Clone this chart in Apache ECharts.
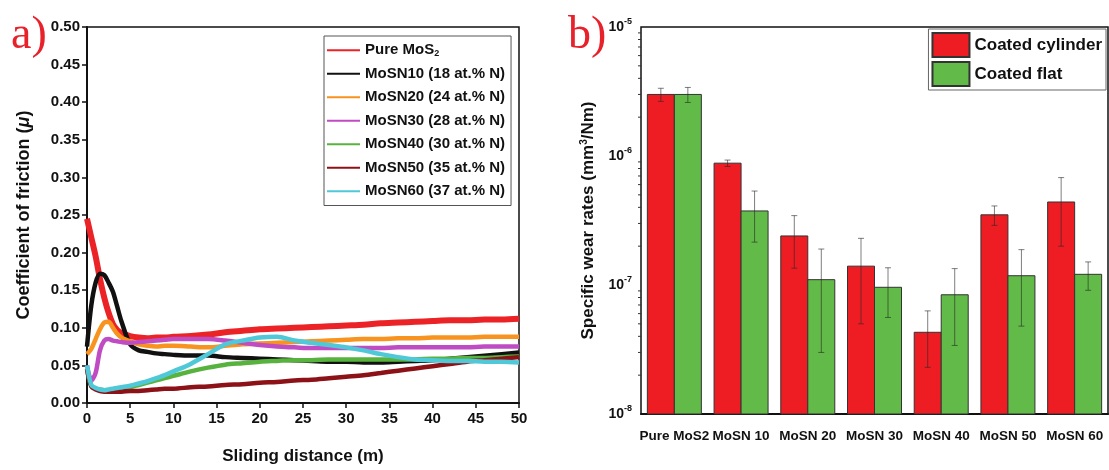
<!DOCTYPE html>
<html>
<head>
<meta charset="utf-8">
<script src="https://cdn.jsdelivr.net/npm/echarts@6/dist/echarts.min.js"></script>
<style>
  html, body { margin: 0; padding: 0; background: #fff; }
  #chart { width: 1109px; height: 470px; }
</style>
</head>
<body>
<div id="chart"></div>
<script>
// ---- a) friction coefficient vs sliding distance ----
const distance = [0, 0.5, 1, 1.5, 2, 2.5, 3, 3.5, 4, 5, 6, 7, 8, 9, 10, 12, 14, 16, 18, 20,
  22, 24, 26, 28, 30, 32, 34, 36, 38, 40, 42, 44, 46, 48, 50];

const cofPureMoS2 = [0.245, 0.22, 0.195, 0.165, 0.14, 0.12, 0.105, 0.097, 0.093, 0.089, 0.087, 0.086, 0.087, 0.087, 0.088,
  0.089, 0.091, 0.094, 0.096, 0.098, 0.099, 0.100, 0.101, 0.102, 0.103, 0.104, 0.106, 0.107, 0.108, 0.109,
  0.110, 0.110, 0.111, 0.111, 0.112];
const cofMoSN10 = [0.075, 0.13, 0.16, 0.172, 0.17, 0.16, 0.148, 0.128, 0.108, 0.078, 0.070, 0.068, 0.066, 0.065, 0.064,
  0.063, 0.063, 0.061, 0.060, 0.059, 0.058, 0.057, 0.056, 0.055, 0.055, 0.054, 0.054, 0.055, 0.056, 0.057,
  0.059, 0.061, 0.063, 0.065, 0.067];
const cofMoSN20 = [0.065, 0.072, 0.085, 0.098, 0.107, 0.108, 0.100, 0.092, 0.087, 0.082, 0.078, 0.076, 0.075, 0.076, 0.076,
  0.075, 0.074, 0.076, 0.078, 0.079, 0.080, 0.081, 0.082, 0.083, 0.084, 0.085, 0.085, 0.086, 0.086, 0.087,
  0.087, 0.087, 0.088, 0.088, 0.088];
const cofMoSN30 = [0.05, 0.03, 0.04, 0.07, 0.083, 0.085, 0.083, 0.082, 0.081, 0.080, 0.081, 0.082, 0.083, 0.084, 0.085,
  0.085, 0.085, 0.083, 0.080, 0.077, 0.075, 0.074, 0.073, 0.073, 0.073, 0.073, 0.073, 0.074, 0.074, 0.074,
  0.074, 0.074, 0.075, 0.075, 0.075];
const cofMoSN40 = [0.045, 0.022, 0.019, 0.018, 0.017, 0.017, 0.017, 0.018, 0.019, 0.021, 0.024, 0.027, 0.030, 0.033, 0.036,
  0.042, 0.047, 0.051, 0.053, 0.055, 0.056, 0.057, 0.057, 0.058, 0.058, 0.058, 0.058, 0.058, 0.058, 0.059,
  0.059, 0.060, 0.060, 0.061, 0.062];
const cofMoSN50 = [0.045, 0.022, 0.018, 0.016, 0.015, 0.015, 0.015, 0.015, 0.015, 0.016, 0.016, 0.017, 0.018, 0.019, 0.019,
  0.021, 0.022, 0.024, 0.025, 0.027, 0.028, 0.030, 0.031, 0.033, 0.035, 0.037, 0.040, 0.043, 0.046, 0.049,
  0.052, 0.055, 0.057, 0.059, 0.061];
const cofMoSN60 = [0.05, 0.024, 0.020, 0.018, 0.017, 0.018, 0.019, 0.020, 0.021, 0.023, 0.026, 0.029, 0.033, 0.037, 0.042,
  0.052, 0.065, 0.078, 0.083, 0.087, 0.088, 0.083, 0.080, 0.077, 0.074, 0.070, 0.065, 0.061, 0.058, 0.057,
  0.056, 0.056, 0.055, 0.055, 0.054];

const frictionNames = ['Pure MoS2', 'MoSN10 (18 at.% N)', 'MoSN20 (24 at.% N)', 'MoSN30 (28 at.% N)',
  'MoSN40 (30 at.% N)', 'MoSN50 (35 at.% N)', 'MoSN60 (37 at.% N)'];
const frictionValues = [cofPureMoS2, cofMoSN10, cofMoSN20, cofMoSN30, cofMoSN40, cofMoSN50, cofMoSN60];
const frictionColors = ['#ec2326', '#111111', '#f7931e', '#c04cc4', '#58b33e', '#8c1217', '#4fc8d8'];

// ---- b) specific wear rates (mm^3/Nm) ----
const samples = ['Pure MoS2', 'MoSN 10', 'MoSN 20', 'MoSN 30', 'MoSN 40', 'MoSN 50', 'MoSN 60'];
const wearCylinder = [3.0e-6, 8.8e-7, 2.4e-7, 1.4e-7, 4.3e-8, 3.5e-7, 4.4e-7];
const wearCylinderErr = [0.35e-6, 0.5e-7, 1.05e-7, 0.9e-7, 2.0e-8, 0.6e-7, 2.4e-7];
const wearFlat = [3.0e-6, 3.75e-7, 1.1e-7, 9.6e-8, 8.4e-8, 1.18e-7, 1.21e-7];
const wearFlatErr = [0.4e-6, 1.6e-7, 0.8e-7, 4.0e-8, 5.0e-8, 0.7e-7, 3.0e-8];

const WEAR_AXIS_MIN = 1e-8;
const WEAR_AXIS_MAX = 1e-5;

// minor tick positions of the logarithmic axis (2..9 within each decade)
const logMinorTicks = [];
for (let e = -8; e <= -6; e++) {
  for (let m = 2; m <= 9; m++) logMinorTicks.push(m * Math.pow(10, e));
}

const FONT = 'Liberation Sans, Arial, sans-serif';
const BAR_W = 27;

const chart = echarts.init(document.getElementById('chart'), null, { renderer: 'canvas' });

// bars on the log axis, drawn from the axis floor up to each value
function wearBarSeries(name, values, side, color) {
  return {
    name: name,
    type: 'custom',
    xAxisIndex: 1, yAxisIndex: 1,
    itemStyle: { color: color, borderColor: '#333', borderWidth: 1 },
    data: values.map((v, i) => [i, v]),
    encode: { x: 0, y: 1 },
    z: 5,
    renderItem: function (params, api) {
      const i = api.value(0), v = api.value(1);
      const top = api.coord([i, v]);
      const base = api.coord([i, WEAR_AXIS_MIN]);
      const x = side < 0 ? top[0] - BAR_W : top[0];
      return {
        type: 'rect',
        shape: { x: x, y: top[1], width: BAR_W, height: base[1] - top[1] },
        style: { fill: color, stroke: '#333', lineWidth: 1 }
      };
    }
  };
}

function errorBarSeries(values, errs, offset, color) {
  return {
    type: 'custom',
    xAxisIndex: 1, yAxisIndex: 1,
    silent: true,
    z: 10,
    data: values.map((v, i) => [i, v, errs[i]]),
    encode: { x: 0, y: 1 },
    renderItem: function (params, api) {
      const i = api.value(0), v = api.value(1), e = api.value(2);
      const hi = api.coord([i, v + e]);
      const lo = api.coord([i, v - e]);
      const x = hi[0] + offset;
      const cap = 3;
      const style = { stroke: color, lineWidth: 1 };
      return {
        type: 'group',
        children: [
          { type: 'line', shape: { x1: x, y1: hi[1], x2: x, y2: lo[1] }, style: style },
          { type: 'line', shape: { x1: x - cap, y1: hi[1], x2: x + cap, y2: hi[1] }, style: style },
          { type: 'line', shape: { x1: x - cap, y1: lo[1], x2: x + cap, y2: lo[1] }, style: style }
        ]
      };
    }
  };
}

const lineSeries = frictionNames.map((name, k) => ({
  name: name,
  type: 'line',
  xAxisIndex: 0, yAxisIndex: 0,
  showSymbol: false,
  smooth: 0.3,
  data: distance.map((d, i) => [d, frictionValues[k][i]]),
  lineStyle: { color: frictionColors[k], width: k === 0 ? 6 : 4.5 },
  itemStyle: { color: frictionColors[k] },
  z: 2 + k
}));

const option = {
  animation: false,
  backgroundColor: '#ffffff',
  textStyle: { fontFamily: FONT },
  title: [
    { text: 'a)', left: 6, top: 8, textStyle: { fontFamily: 'Liberation Serif, serif', fontSize: 46, fontWeight: 'normal', color: '#e8222b' } },
    { text: 'b)', left: 563, top: 8, textStyle: { fontFamily: 'Liberation Serif, serif', fontSize: 46, fontWeight: 'normal', color: '#e8222b' } }
  ],
  grid: [
    { left: 87, top: 27, right: 590, bottom: 67, show: true, borderColor: '#111', borderWidth: 1.5, backgroundColor: 'transparent' },
    { left: 641, top: 27, right: 1, bottom: 56, show: true, borderColor: '#111', borderWidth: 1.5, backgroundColor: 'transparent' }
  ],
  legend: [
    {
      data: frictionNames,
      orient: 'vertical',
      left: 324, top: 36,
      padding: [6, 6, 6, 3],
      itemWidth: 33, itemHeight: 2, itemGap: 7,
      icon: 'rect',
      selectedMode: false,
      borderColor: '#555', borderWidth: 1,
      formatter: function (n) { return n === 'Pure MoS2' ? 'Pure MoS{sub|2}' : n; },
      textStyle: {
        fontFamily: FONT, fontSize: 15, fontWeight: 'bold', color: '#111', lineHeight: 16.5,
        rich: { sub: { fontSize: 9, fontWeight: 'bold', verticalAlign: 'bottom', lineHeight: 16.5, padding: [6, 0, 0, 0] } }
      }
    },
    {
      data: ['Coated cylinder', 'Coated flat'],
      orient: 'vertical',
      right: 3, top: 29,
      padding: [3, 4, 3, 3],
      itemWidth: 37, itemHeight: 24, itemGap: 3,
      icon: 'rect',
      selectedMode: false,
      borderColor: '#666', borderWidth: 1,
      textStyle: { fontFamily: FONT, fontSize: 17, fontWeight: 'bold', color: '#111' }
    }
  ],
  xAxis: [
    {
      type: 'value', gridIndex: 0, min: 0, max: 50, interval: 5,
      name: 'Sliding distance (m)', nameLocation: 'middle', nameGap: 45,
      nameTextStyle: { fontFamily: FONT, fontSize: 17, fontWeight: 'bold', color: '#111' },
      axisLine: { lineStyle: { color: '#111', width: 2 } },
      axisTick: { inside: false, length: 5, lineStyle: { color: '#111', width: 1.5 } },
      axisLabel: { fontFamily: FONT, fontSize: 15, fontWeight: 'bold', color: '#111', margin: 8 },
      splitLine: { show: false }
    },
    {
      type: 'category', gridIndex: 1, data: samples,
      axisLine: { lineStyle: { color: '#111', width: 2 } },
      axisTick: { alignWithLabel: true, length: 6, lineStyle: { color: '#555', width: 1 } },
      axisLabel: { interval: 0, fontFamily: FONT, fontSize: 13.5, fontWeight: 'bold', color: '#111', margin: 15 },
      splitLine: { show: false }
    }
  ],
  yAxis: [
    {
      type: 'value', gridIndex: 0, min: 0, max: 0.5, interval: 0.05,
      name: 'Coefficient of friction ({i|μ})', nameLocation: 'middle', nameGap: 54,
      nameTextStyle: {
        fontFamily: FONT, fontSize: 18, fontWeight: 'bold', color: '#111',
        rich: { i: { fontFamily: FONT, fontSize: 18, fontWeight: 'bold', fontStyle: 'italic', color: '#111' } }
      },
      axisLine: { lineStyle: { color: '#111', width: 2 } },
      axisTick: { length: 5, lineStyle: { color: '#111', width: 1.5 } },
      axisLabel: { fontFamily: FONT, fontSize: 15, fontWeight: 'bold', color: '#111', margin: 7,
        formatter: v => v.toFixed(2) },
      splitLine: { show: false }
    },
    {
      type: 'log', gridIndex: 1, logBase: 10, min: WEAR_AXIS_MIN, max: WEAR_AXIS_MAX,
      name: 'Specific wear rates (mm{sup|3}/Nm)', nameLocation: 'middle', nameGap: 44,
      nameTextStyle: {
        fontFamily: FONT, fontSize: 17, fontWeight: 'bold', color: '#111',
        rich: { sup: { fontFamily: FONT, fontSize: 10, fontWeight: 'bold', color: '#111', padding: [0, 0, 8, 0] } }
      },
      axisLine: { lineStyle: { color: '#111', width: 2 } },
      axisTick: { length: 5, lineStyle: { color: '#333', width: 1.2 } },
      axisLabel: {
        fontFamily: FONT, fontSize: 14, fontWeight: 'bold', color: '#111', margin: 9,
        formatter: function (v) { return '10{sup|' + Math.round(Math.log10(v)) + '}'; },
        rich: { sup: { fontFamily: FONT, fontSize: 9, fontWeight: 'bold', color: '#111', padding: [0, 0, 10, 0] } }
      },
      splitLine: { show: false }
    }
  ],
  series: lineSeries.concat([
    wearBarSeries('Coated cylinder', wearCylinder, -1, '#ee1d24'),
    wearBarSeries('Coated flat', wearFlat, 1, '#62ba48'),
    errorBarSeries(wearCylinder, wearCylinderErr, -BAR_W / 2, 'rgba(40,40,40,0.6)'),
    errorBarSeries(wearFlat, wearFlatErr, BAR_W / 2, 'rgba(40,40,40,0.6)'),
    {
      type: 'custom', xAxisIndex: 1, yAxisIndex: 1, silent: true, clip: false, z: 11,
      data: logMinorTicks.map(v => [0, v]),
      encode: { x: 0, y: 1 },
      renderItem: function (params, api) {
        const v = api.value(1);
        const p = api.coord([0, v]);
        const band = api.size([1, v])[0];
        const x0 = p[0] - band / 2;
        return { type: 'line', shape: { x1: x0 - 3, y1: p[1], x2: x0, y2: p[1] }, style: { stroke: '#333', lineWidth: 1 } };
      }
    }
  ])
};

chart.setOption(option);
</script>
</body>
</html>
